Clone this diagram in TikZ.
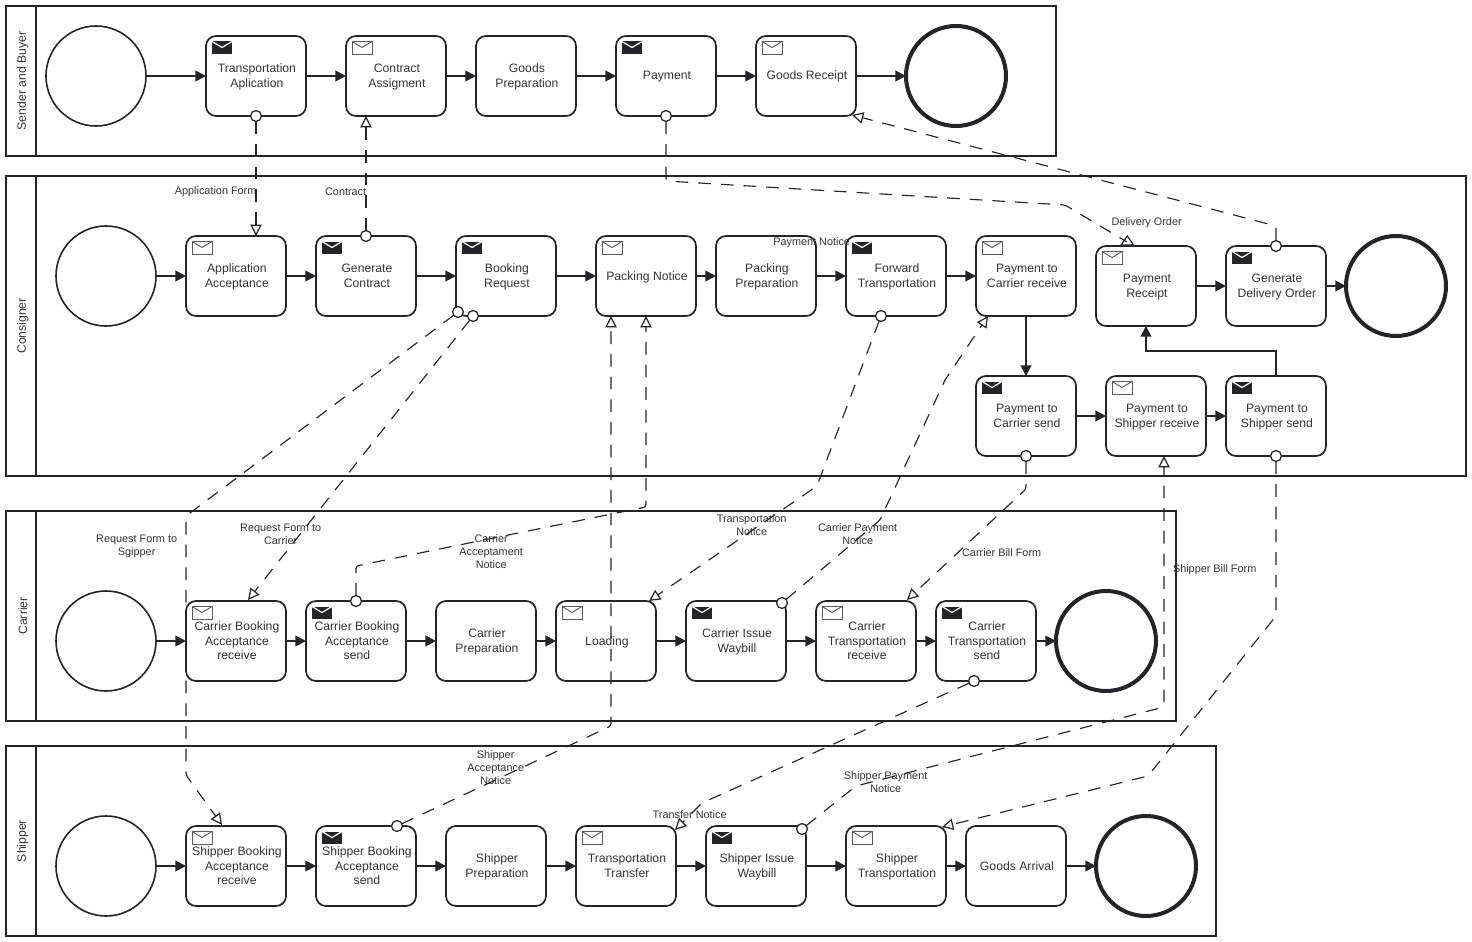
\documentclass[tikz,border=0pt]{standalone}
\usepackage{fontspec}
\setmainfont{Liberation Sans}
\usetikzlibrary{arrows.meta,calc}
\definecolor{ink}{HTML}{232328}
\definecolor{txt}{HTML}{333338}
\newcommand{\tx}[1]{\hspace*{1.4pt}\raisebox{-0.75pt}[\dimexpr\height+0.75pt\relax][\dimexpr\depth+0.75pt\relax]{\begin{tabular}{@{}c@{}}#1\end{tabular}}}
\tikzset{
  taskbox/.style={draw=ink,line width=1.3pt,rounded corners=7.5pt,minimum width=75pt,minimum height=60pt,inner sep=0pt,outer sep=0pt,text=txt,font=\fontsize{9.15}{11.25}\selectfont},
  startev/.style={circle,draw=ink,line width=1.2pt,minimum size=75pt,inner sep=0pt,outer sep=0pt},
  endev/.style={circle,draw=ink,line width=3pt,minimum size=75pt,inner sep=0pt,outer sep=0pt},
  pool/.style={draw=ink,line width=1.4pt},
  poollabel/.style={rotate=90,yshift=-1.3pt,text=txt,font=\fontsize{9.15}{11}\selectfont},
  seqflow/.style={draw=ink,line width=1.4pt,-{Triangle[length=8pt,width=8pt]}},
  msgline/.style={draw=ink,line width=0.85pt,dash pattern=on 9.5pt off 7.5pt,rounded corners=2pt},
  msgflow/.style={msgline,-{Triangle[length=8.5pt,width=8.5pt,fill=white,line width=0.9pt]}},
  msgstart/.style={circle,draw=ink,fill=white,line width=0.95pt,minimum size=8.2pt,inner sep=0pt,outer sep=0pt},
  msglabel/.style={align=center,text=txt,xshift=0.5pt,yshift=-1.1pt,font=\fontsize{8.15}{9.75}\selectfont,inner sep=0pt},
}
\newcommand{\sendicon}[1]{\begin{scope}[shift={(#1.north west)}]
  \fill[ink] (6,5.5) rectangle (26,18);
  \draw[white,line width=0.9pt] (6,5.5) -- (16,11.5) -- (26,5.5);
\end{scope}}
\newcommand{\recvicon}[1]{\begin{scope}[shift={(#1.north west)}]
  \draw[fill=white,draw=ink!75,line width=0.7pt] (6,5.5) rectangle (26,18);
  \draw[draw=ink!75,line width=0.7pt] (6,5.5) -- (16,11.5) -- (26,5.5);
\end{scope}}
\begin{document}
\begin{tikzpicture}[x=0.75pt,y=-0.75pt]
\useasboundingbox[fill=white] (0,0) rectangle (1472,942);
% pools
\draw[pool] (6,6) rectangle (1056,156) (36,6) -- (36,156);
\draw[pool] (6,176) rectangle (1466,476) (36,176) -- (36,476);
\draw[pool] (6,511) rectangle (1176,721) (36,511) -- (36,721);
\draw[pool] (6,746) rectangle (1216,936) (36,746) -- (36,936);
\node[poollabel] (lab1) at (21,81) {Sender and Buyer};
\node[poollabel] (lab2) at (21,326) {Consigner};
\node[poollabel] (lab3) at (21,616) {Carrier};
\node[poollabel] (lab4) at (21,841) {Shipper};
% pool 1
\node[startev] (s1) at (96,76) {};
\node[taskbox] (a1) at (256,76) {\tx{Transportation\\Aplication}};
\node[taskbox] (a2) at (396,76) {\tx{Contract\\Assigment}};
\node[taskbox] (a3) at (526,76) {\tx{Goods\\Preparation}};
\node[taskbox] (a4) at (666,76) {\tx{Payment}};
\node[taskbox] (a5) at (806,76) {\tx{Goods Receipt}};
\node[endev] (e1) at (956,76) {};
\sendicon{a1}\recvicon{a2}\sendicon{a4}\recvicon{a5}
% pool 2
\node[startev] (s2) at (106,276) {};
\node[taskbox] (b1) at (236,276) {\tx{Application\\Acceptance}};
\node[taskbox] (b2) at (366,276) {\tx{Generate\\Contract}};
\node[taskbox] (b3) at (506,276) {\tx{Booking\\Request}};
\node[taskbox] (b4) at (646,276) {\tx{Packing Notice}};
\node[taskbox] (b5) at (766,276) {\tx{Packing\\Preparation}};
\node[taskbox] (b6) at (896,276) {\tx{Forward\\Transportation}};
\node[taskbox] (b7) at (1026,276) {\tx{Payment to\\Carrier receive}};
\node[taskbox] (b8) at (1146,286) {\tx{Payment\\Receipt}};
\node[taskbox] (b9) at (1276,286) {\tx{Generate\\Delivery Order}};
\node[endev] (e2) at (1396,286) {};
\node[taskbox] (b10) at (1026,416) {\tx{Payment to\\Carrier send}};
\node[taskbox] (b11) at (1156,416) {\tx{Payment to\\Shipper receive}};
\node[taskbox] (b12) at (1276,416) {\tx{Payment to\\Shipper send}};
\recvicon{b1}\sendicon{b2}\sendicon{b3}\recvicon{b4}\sendicon{b6}\recvicon{b7}\recvicon{b8}\sendicon{b9}\sendicon{b10}\recvicon{b11}\sendicon{b12}
% pool 3
\node[startev] (s3) at (106,641) {};
\node[taskbox] (c1) at (236,641) {\tx{Carrier Booking\\[-0.7pt]Acceptance\\[-0.7pt]receive}};
\node[taskbox] (c2) at (356,641) {\tx{Carrier Booking\\[-0.7pt]Acceptance\\[-0.7pt]send}};
\node[taskbox] (c3) at (486,641) {\tx{Carrier\\Preparation}};
\node[taskbox] (c4) at (606,641) {\tx{Loading}};
\node[taskbox] (c5) at (736,641) {\tx{Carrier Issue\\Waybill}};
\node[taskbox] (c6) at (866,641) {\tx{Carrier\\[-0.7pt]Transportation\\[-0.7pt]receive}};
\node[taskbox] (c7) at (986,641) {\tx{Carrier\\[-0.7pt]Transportation\\[-0.7pt]send}};
\node[endev] (e3) at (1106,641) {};
\recvicon{c1}\sendicon{c2}\recvicon{c4}\sendicon{c5}\recvicon{c6}\sendicon{c7}
% pool 4
\node[startev] (s4) at (106,866) {};
\node[taskbox] (d1) at (236,866) {\tx{Shipper Booking\\[-0.7pt]Acceptance\\[-0.7pt]receive}};
\node[taskbox] (d2) at (366,866) {\tx{Shipper Booking\\[-0.7pt]Acceptance\\[-0.7pt]send}};
\node[taskbox] (d3) at (496,866) {\tx{Shipper\\Preparation}};
\node[taskbox] (d4) at (626,866) {\tx{Transportation\\Transfer}};
\node[taskbox] (d5) at (756,866) {\tx{Shipper Issue\\Waybill}};
\node[taskbox] (d6) at (896,866) {\tx{Shipper\\Transportation}};
\node[taskbox] (d7) at (1016,866) {\tx{Goods Arrival}};
\node[endev] (e4) at (1146,866) {};
\recvicon{d1}\sendicon{d2}\recvicon{d4}\sendicon{d5}\recvicon{d6}
% sequence flows
\foreach \p/\q in {s1/a1,a1/a2,a2/a3,a3/a4,a4/a5,a5/e1,
  s2/b1,b1/b2,b2/b3,b3/b4,b4/b5,b5/b6,b6/b7,b8/b9,b9/e2,b10/b11,b11/b12,
  s3/c1,c1/c2,c2/c3,c3/c4,c4/c5,c5/c6,c6/c7,c7/e3,
  s4/d1,d1/d2,d2/d3,d3/d4,d4/d5,d5/d6,d6/d7,d7/e4}
  {\draw[seqflow] (\p) -- (\q);}
\draw[seqflow] (b7.south) -- (b10.north);
\draw[seqflow] (b12.north) -- ++(0,-25) -| (b8.south);
% message flow labels
\node[msglabel] (l1) at (215,190) {Application Form};
\node[msglabel] (l2) at (345,190) {Contract};
\node[msglabel] (l3) at (1146,221) {Delivery Order};
\node[msglabel] (l4) at (811,241) {Payment Notice};
\node[msglabel] (l5) at (136,544.5) {Request Form to\\Sgipper};
\node[msglabel] (l6) at (280,532.5) {Request Form to\\Carrier};
\node[msglabel] (l7) at (490.5,550) {Carrier\\Acceptament\\Notice};
\node[msglabel] (l8) at (751,524) {Transportation\\Notice};
\node[msglabel] (l9) at (857,532.5) {Carrier Payment\\Notice};
\node[msglabel] (l10) at (1001,551) {Carrier Bill Form};
\node[msglabel] (l11) at (1214,568) {Shipper Bill Form};
\node[msglabel] (l12) at (495,766) {Shipper\\Acceptance\\Notice};
\node[msglabel] (l13) at (689,813) {Transfer Notice};
\node[msglabel] (l14) at (885,780.5) {Shipper Payment\\Notice};
% message start circles
\node[msgstart] (m1) at (256,116) {};
\node[msgstart] (m2) at (366,236) {};
\node[msgstart] (m3) at (666,116) {};
\node[msgstart] (m4) at (1276,246) {};
\node[msgstart] (m5) at (458,312) {};
\node[msgstart] (m6) at (473,316) {};
\node[msgstart] (m7) at (356,601) {};
\node[msgstart] (m8) at (397,826) {};
\node[msgstart] (m9) at (881,316) {};
\node[msgstart] (m10) at (782,603) {};
\node[msgstart] (m11) at (1026,456) {};
\node[msgstart] (m12) at (1276,456) {};
\node[msgstart] (m13) at (974,681) {};
\node[msgstart] (m14) at (802,829) {};
% message flows
\draw[msgflow] (m1) -- ($(b1.north)+(20,0)$);
\draw[msgflow] (m2) -- ($(a2.south)+(-30,0)$);
\draw[draw=ink,fill=white,line width=0.9pt] (1127.3,236) -- (1133.5,245) -- (1121,245) -- cycle;
\draw[msgline] (m3) -- (666,181) -- (1065,205) -- ($(b8.north)+(-19,-4)$);
\draw[msgflow] (m4) -- (1276,226) -- ($(a5.south east)+(-4,-1)$);
\draw[msgflow] (m5) -- (186,516) -- (186,775) -- ($(d1.north)+(-14,-1)$);
\draw[msgflow] (m6) -- ($(c1.north)+(12,-1)$);
\draw[msgflow] (m7) -- (356,566) -- (646,507) -- (b4.south);
\draw[msgflow] (m8) -- (611,726) -- ($(b4.south)+(-35,0)$);
\draw[msgflow] (m9) -- (817,486) -- ($(c4.north east)+(-7,0)$);
\draw[msgflow] (m10) -- (880,520) -- (945,380) -- ($(b7.south west)+(12,0)$);
\draw[msgflow] (m11) -- (1026,489) -- ($(c6.north)+(41,-1)$);
\draw[msgflow] (m12) -- (1276,616) -- (1148,776) -- ($(d6.north east)+(-4,1)$);
\draw[msgflow] (m13) -- (702,803) -- ($(d4.north east)+(-1,4)$);
\draw[msgflow] (m14) -- (856,786) -- (1164,707) -- ($(b11.south)+(8,0)$);
\end{tikzpicture}
\end{document}
